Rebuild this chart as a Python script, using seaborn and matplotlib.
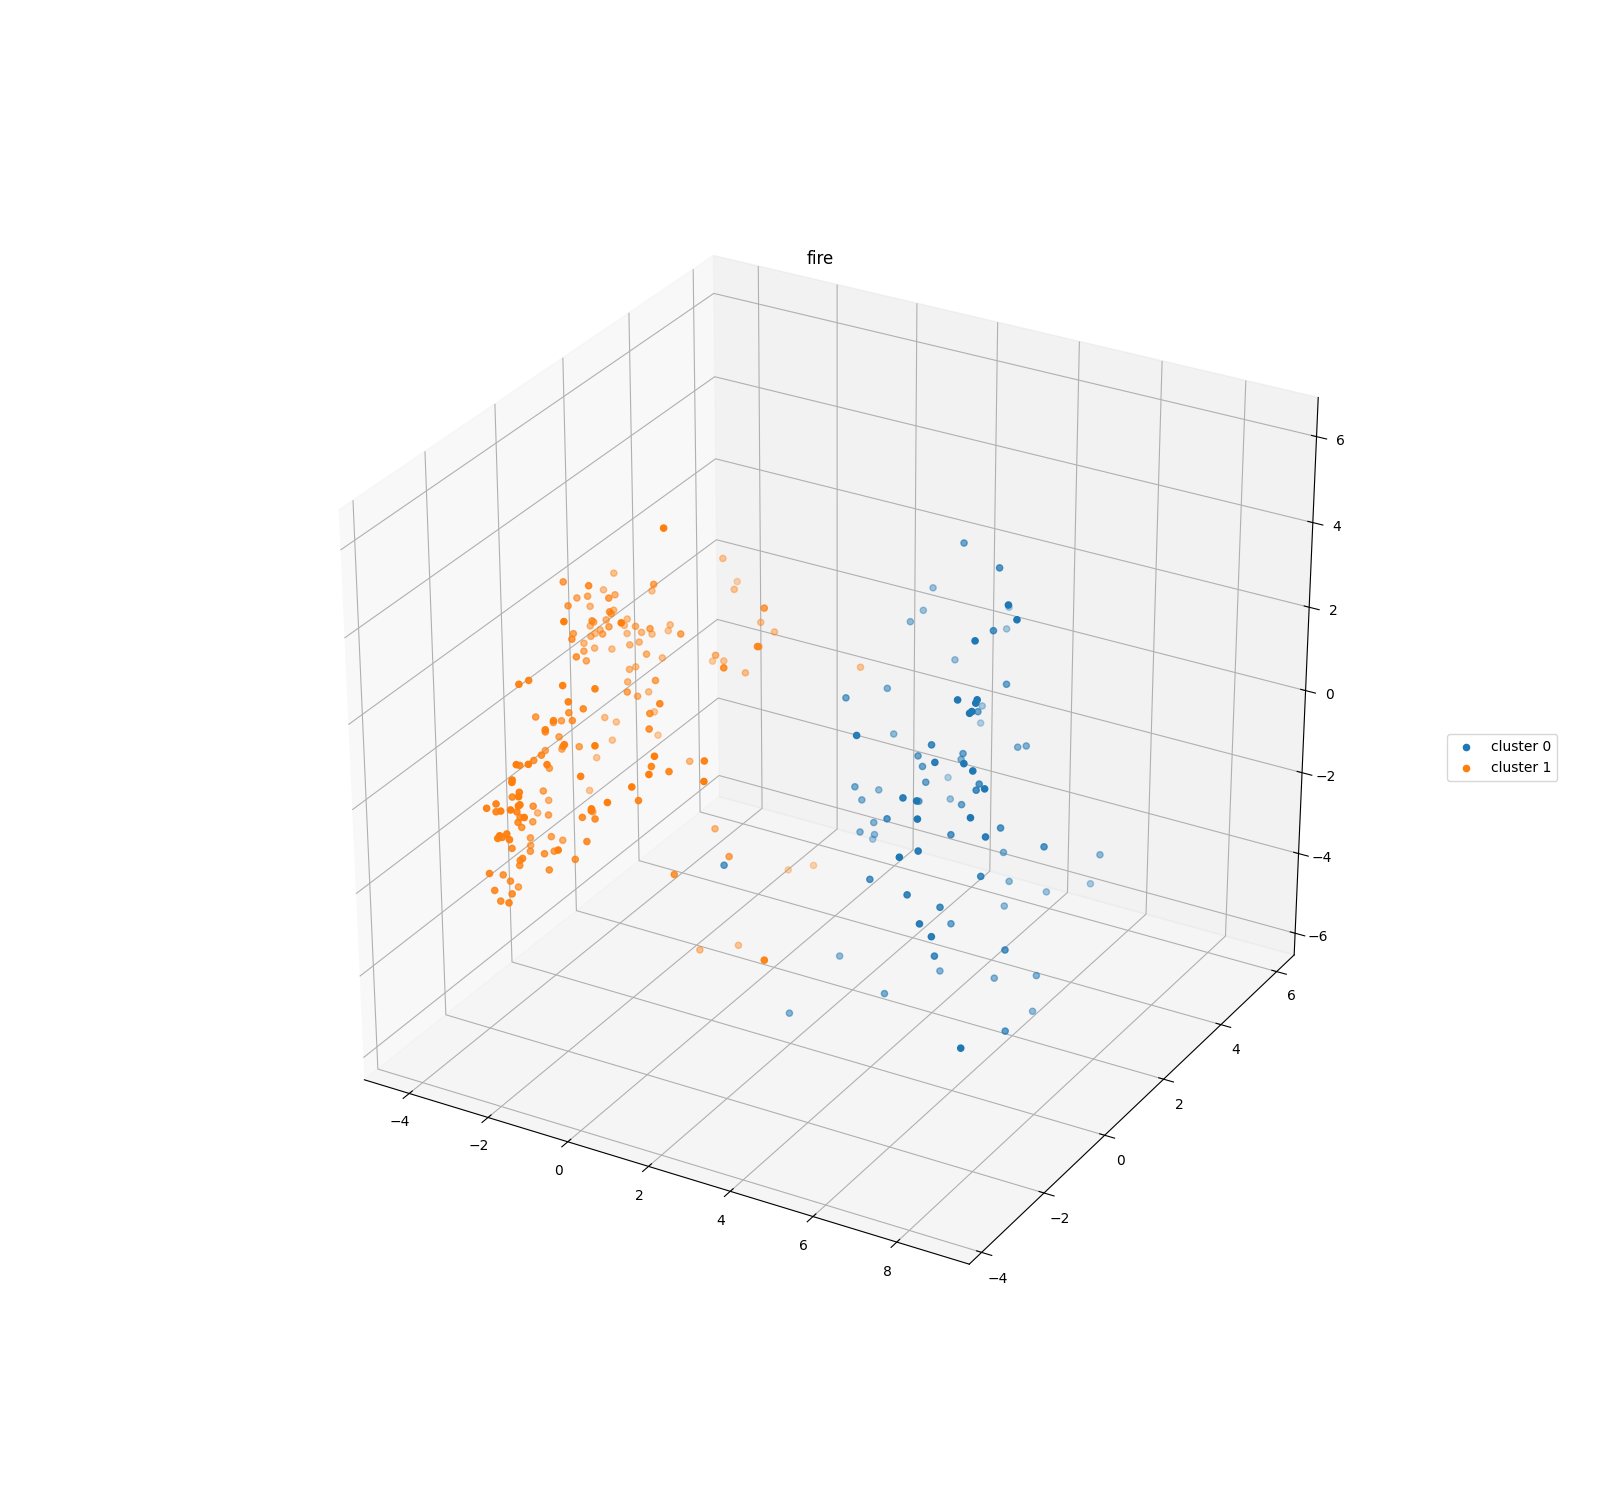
import numpy as np
import matplotlib
matplotlib.use("Agg")
import matplotlib.pyplot as plt
import seaborn as sns

# cluster 0
x0 = [3.92, 5.57, 1.87, 7.63, 2.57, 1.82, 2.08, 7.86, 5.81, 3.07, 7.24, 2.70, 5.50, 2.47, 2.64, 7.26, 7.60, 7.59, 3.06, 5.13, 7.57, 7.54, 2.71,
      5.24, 2.42, 5.76, 4.29, 5.10, 4.25, 7.71, 6.77, 4.43, 5.23, 5.38, 7.91, 2.41, 4.58, 6.41, 6.81, 8.21, 2.87, 2.46, 2.64, 6.40, 7.09, 4.56,
      3.43, 5.36, 7.20, 8.12, 4.94, 2.99, 2.79, 2.64, 1.77, 6.18, 7.04, 8.07, 5.57, 6.96, 7.09, 7.37, 5.43, 4.97, 6.58, 6.81, 5.48, 7.38, 5.84,
      5.78, 6.16, 7.66, 2.69, 6.98, 7.80, 5.07, 6.12, 6.89, 4.60, 6.62, 2.52, 7.85, 9.20, 1.81, 7.93, 6.97]
y0 = [3.01, 1.93, 4.76, -0.60, 6.39, 4.51, 3.74, -0.64, 1.43, 5.63, -1.10, 4.40, 2.31, 2.49, 0.95, -1.65, -1.50, -1.53, 4.85, 1.89, -1.62, -1.65, 5.28,
      -2.08, 2.77, -0.44, 1.09, 1.46, 2.55, -2.04, -1.68, 1.05, 3.09, 3.17, -2.03, 4.60, 0.96, 0.22, -0.42, -2.06, 0.94, 2.24, 1.46, -2.17, -2.66, 0.77,
      3.31, 1.08, -2.78, -2.37, -0.74, 1.39, 1.21, 1.87, 2.95, -0.36, 0.07, -1.82, 2.20, -2.43, -3.18, -1.00, 2.60, -1.31, -2.26, -1.53, 2.38, -2.93, 0.13,
      3.39, 4.38, -2.93, 0.69, -1.92, -0.77, 0.82, 1.20, 1.55, -0.35, 1.82, -0.69, -0.79, -4.05, -1.78, 0.27, 3.53]
z0 = [4.17, 4.61, 1.61, 5.73, 0.37, 1.20, 1.44, 5.48, 3.51, 0.41, 5.12, 0.29, 1.66, 0.68, 1.42, 4.12, 4.12, 4.06, -1.01, 1.17, 3.92, 3.89, -1.78,
      3.05, -0.60, 1.97, 0.39, 0.43, -0.60, 3.03, 2.59, 0.20, -0.38, -0.36, 2.91, -2.79, -0.08, 0.82, 1.18, 2.60, -0.63, -1.62, -1.33, 1.98, 2.40, -0.42,
      -2.25, -0.48, 2.09, 2.11, 0.21, -1.74, -1.91, -2.43, -3.46, -0.07, 0.05, 1.31, -2.28, 1.07, 1.44, -0.32, -3.28, -0.85, -0.16, -0.86, -3.73, -0.18, -2.60,
      -3.95, -4.28, -0.40, -4.64, -1.71, -2.09, -4.42, -4.55, -4.50, -4.33, -5.64, -5.18, -4.01, -1.81, -1.08, -0.28, -2.80]

# cluster 1
x1 = [-0.48, -5.18, -4.04, -2.73, -5.28, -2.75, -4.35, -4.51, -4.32, -3.10, -4.22, -3.81, -5.03, -3.01, -4.56, -3.37, -4.24, -3.28, -4.46, -4.91, -3.34, -0.71,
      -4.67, -4.65, -1.75, -3.96, -4.70, -5.18, -3.82, -4.43, -3.14, -4.93, -4.70, -4.07, -4.77, -2.96, -3.97, -3.65, -4.57, -3.90, -2.56, -4.09, -4.20, -3.80,
      -4.05, -3.89, -3.28, -3.75, -3.91, -4.21, -3.87, -2.16, -2.62, -3.20, -3.81, -0.36, -2.61,
      -2.88, -1.82, -1.22, -1.63, -2.13, -2.78, -1.28, -3.98, -3.77, -2.20, -3.82, -3.68, -2.67, -4.50, -4.65, -1.89, -3.10, -3.63, -0.81, -4.17, -4.62, -1.46,
      -2.69, -4.32, -3.81, -3.20, -0.50, -2.63, -4.82, 0.63, -3.15, -1.59, -1.81, -2.56, -1.66, -3.63, -0.16, 0.19, 0.63, -0.99, -1.80, -1.79, 0.39, -4.76,
      -3.61, -2.01, -1.59, -2.93, -4.27, -0.20, 0.04, -2.36, -2.51, -2.73, -2.24, -1.66, -1.52, -1.54, -2.90, -2.35, -4.81, -3.38, -0.21, -0.60, -3.37, -2.67,
      -1.37, -1.53, -1.29, -2.68, -3.63, -2.96,
      -2.00, -1.71, -2.14, -2.47, -1.92, -3.58, -3.20, -3.37, -1.31, -2.64, -3.94, -3.10, -2.66, -0.58, -2.42, -1.82, -2.39, -2.83, -2.81, -2.24, -2.50, -3.06,
      -2.89, -3.52, -2.72, -2.38, -2.55, -1.98, -3.58, -3.95, -3.18, -0.16, -2.47, -2.15, 0.32, -1.20, -1.97, -3.56, -2.95, 0.21, -2.08, -0.29, -1.96, -2.23,
      1.16, 1.66, -1.35, 0.23, 0.09, -1.22, -0.76, -1.31, -0.98, 3.36]
y1 = [-0.66, 3.42, 0.56, -0.22, 3.21, 1.74, 3.60, 1.50, 1.60, 0.80, 2.31, 0.42, 2.50, 0.71, 2.66, 1.18, 2.05, 0.50, 1.93, 2.35, 1.07, -1.67,
      3.11, 3.18, -2.10, 0.73, 2.40, 2.81, 1.44, 1.80, -0.27, 2.17, 2.22, 1.16, 2.83, -0.36, 1.11, 2.24, 3.07, 2.72, 1.38, 3.27, 3.91, 3.49,
      2.53, 2.63, 2.12, 3.17, 2.34, 2.89, 2.23, 1.04, 0.73, 1.73, 2.80, -1.00, -2.44,
      -1.85, -2.10, -1.87, -2.17, -1.16, -0.83, -0.20, 3.17, -0.66, -1.95, -0.09, -0.01, -0.86, 2.25, 2.78, -2.55, -1.16, -0.15, -0.79, 3.50, 2.61, -2.51,
      -1.13, 0.72, -0.36, -0.06, -2.75, -1.83, 2.35, -2.37, -1.46, -3.40, -3.49, -2.54, -2.79, -0.46, -1.52, -1.42, -2.54, -2.61, -3.63, -3.65, -2.76, 2.04,
      -0.68, -3.20, -3.70, -2.36, 0.23, -1.87, -3.06, -3.47, -3.57, -3.06, -3.48, -3.86, -3.75, -3.77, -1.80, -2.90, 0.51, -0.81, -3.23, -2.78, 0.50, -2.45,
      -3.81, -1.96, -1.87, -2.50, -0.99, -2.08,
      -3.60, -4.13, -3.70, -3.20, -3.62, -1.13, -0.95, -0.42, -2.10, -2.74, -0.72, -1.69, -1.50, -3.78, -2.06, -1.86, -2.73, -2.30, -2.34, -2.14, -3.56, -2.54,
      -2.53, -1.59, -3.18, -3.07, -3.21, -3.62, 4.91, 5.82, 4.77, 1.96, 4.73, 4.77, 1.14, 3.08, 2.67, 4.52, 4.13, 0.24, 3.74, 5.21, 1.59, 2.14,
      -1.54, -2.17, 1.83, 0.32, -1.19, 4.01, 4.26, 1.26, 2.08, -2.51]
z1 = [5.52, 1.00, 2.71, 3.39, 0.69, 2.29, 0.67, 1.67, 1.70, 2.42, 1.35, 2.28, 0.76, 2.17, 0.69, 1.76, 0.89, 2.01, 0.85, 0.40, 1.52, 3.87,
      0.03, 0.15, 3.89, 1.40, 0.33, -0.12, 1.01, 0.59, 2.06, 0.08, -0.01, 0.70, -0.41, 1.74, 0.52, 0.77, -0.12, 0.28, 1.49, -0.13, -0.45, 0.04,
      0.05, 0.10, 0.26, -0.57, -0.40, -0.74, -0.63, 0.55, 0.34, -0.51, -1.20, 1.68, 2.42,
      2.09, 2.39, 2.33, 2.10, 1.20, 0.74, 0.73, -1.96, 0.28, 1.38, -0.21, -0.18, 0.60, -1.68, -2.15, 1.61, 0.40, -0.47, 0.84, -2.79, -2.49, 1.35,
      0.14, -1.48, -0.72, -0.65, 1.72, 0.38, -2.82, 1.54, -0.11, 1.40, 1.39, 0.59, 1.00, -1.04, 0.57, 0.48, 1.22, 0.79, 1.12, 1.08, 1.00, -3.43,
      -1.45, 0.51, 0.83, -0.37, -2.42, -0.03, 0.73, 0.31, 0.23, -0.23, 0.18, 0.60, 0.69, 0.67, -0.93, -0.23, -3.05, -1.89, 0.62, 0.19, -2.63, -0.73,
      0.47, -0.73, -0.76, -0.82, -2.01, -1.28,
      -0.22, 0.15, -0.30, -0.68, -0.32, -2.30, -2.28, -2.75, -1.16, -1.28, -2.84, -2.14, -2.14, -0.10, -1.78, -1.88, -1.46, -1.90, -1.99, -2.07, -1.32, -2.16,
      -2.27, -3.19, -2.03, -2.09, -2.22, -1.84, 0.90, -0.28, 0.32, 2.24, -0.29, -0.47, 1.93, 0.40, 0.24, -1.40, -1.01, 1.93, -0.85, -1.13, 1.39, -2.10,
      1.06, 1.10, -3.34, -2.64, -2.15, -5.72, -5.64, -5.99, -6.32, -2.44]

labels = ["cluster 0", "cluster 1"]
colors = sns.color_palette("tab10")

fig = plt.figure(figsize=(16, 15))
ax = fig.add_subplot(111, projection="3d")
# keep the panel stretched over the whole subplot area, cube-shaped box
ax.apply_aspect = lambda position=None: None
ax.set_box_aspect((1, 1, 1), zoom=np.sqrt(3) / 1.8294640721620434)

ax.scatter(x0, y0, z0, color=colors[0], label=labels[0])
ax.scatter(x1, y1, z1, color=colors[1], label=labels[1])

ax.set_xlim(-5.15, 9.71)
ax.set_ylim(-4.39, 6.64)
ax.set_zlim(-6.55, 6.9)
ax.set_title("fire", y=1.0)
ax.legend(loc="center left", bbox_to_anchor=(1.0, 0.5))
fig.savefig("out.png", dpi=100)
